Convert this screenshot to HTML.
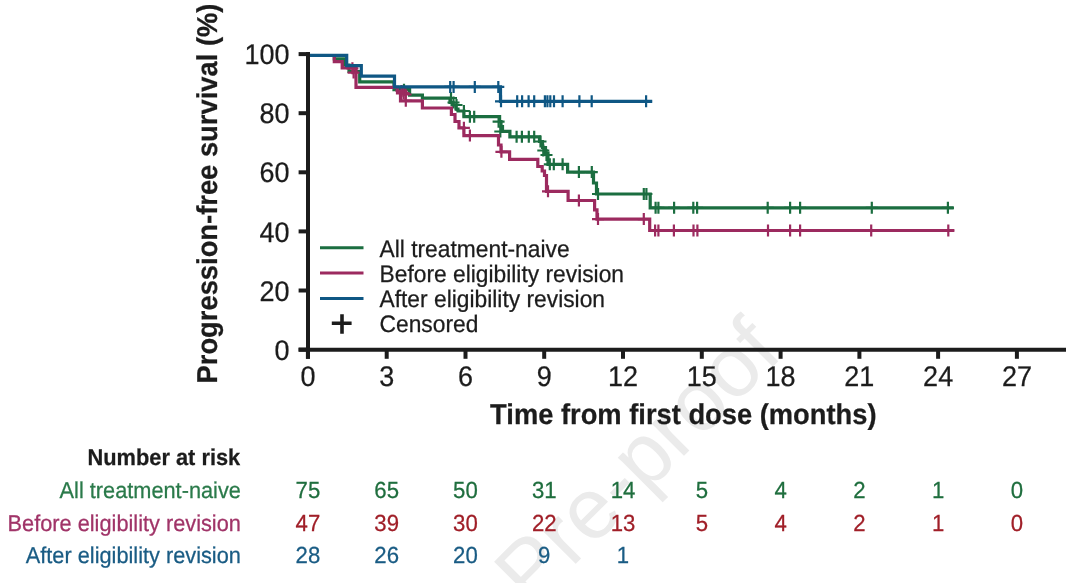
<!DOCTYPE html>
<html><head><meta charset="utf-8"><style>
html,body{margin:0;padding:0;background:#fff;}
body{width:1080px;height:583px;overflow:hidden;}
svg{display:block;will-change:transform;}
text{font-family:"Liberation Sans",Arial,sans-serif;text-rendering:geometricPrecision;}
.tk{font-size:27px;}
.lg{font-size:22.8px;}
.ax{font-size:27.2px;font-weight:bold;}
.nb{font-size:21.6px;}
</style></head><body>
<svg width="1080" height="583" viewBox="0 0 1080 583">
<text x="0" y="0" transform="translate(531,608.6) rotate(-45)" font-family="Liberation Sans, sans-serif" font-size="86" fill="#ebebeb">Pre-proof</text>
<path d="M298.6 54.1H308" stroke="#1c1c1c" stroke-width="4"/>
<text transform="translate(289.50,64.20) scale(1,1.055)" class="tk" fill="#1c1c1c" stroke="#1c1c1c" stroke-width="0.25" text-anchor="end">100</text>
<path d="M298.6 113.2H308" stroke="#1c1c1c" stroke-width="4"/>
<text transform="translate(289.50,123.30) scale(1,1.055)" class="tk" fill="#1c1c1c" stroke="#1c1c1c" stroke-width="0.25" text-anchor="end">80</text>
<path d="M298.6 172.3H308" stroke="#1c1c1c" stroke-width="4"/>
<text transform="translate(289.50,182.40) scale(1,1.055)" class="tk" fill="#1c1c1c" stroke="#1c1c1c" stroke-width="0.25" text-anchor="end">60</text>
<path d="M298.6 231.4H308" stroke="#1c1c1c" stroke-width="4"/>
<text transform="translate(289.50,241.50) scale(1,1.055)" class="tk" fill="#1c1c1c" stroke="#1c1c1c" stroke-width="0.25" text-anchor="end">40</text>
<path d="M298.6 290.5H308" stroke="#1c1c1c" stroke-width="4"/>
<text transform="translate(289.50,300.60) scale(1,1.055)" class="tk" fill="#1c1c1c" stroke="#1c1c1c" stroke-width="0.25" text-anchor="end">20</text>
<path d="M298.6 349.6H308" stroke="#1c1c1c" stroke-width="4"/>
<text transform="translate(289.50,359.70) scale(1,1.055)" class="tk" fill="#1c1c1c" stroke="#1c1c1c" stroke-width="0.25" text-anchor="end">0</text>
<path d="M307.9 350V358.8" stroke="#1c1c1c" stroke-width="4"/>
<text transform="translate(307.90,385.60) scale(1,1.055)" class="tk" fill="#1c1c1c" stroke="#1c1c1c" stroke-width="0.25" text-anchor="middle">0</text>
<path d="M386.7 350V358.8" stroke="#1c1c1c" stroke-width="4"/>
<text transform="translate(386.68,385.60) scale(1,1.055)" class="tk" fill="#1c1c1c" stroke="#1c1c1c" stroke-width="0.25" text-anchor="middle">3</text>
<path d="M465.5 350V358.8" stroke="#1c1c1c" stroke-width="4"/>
<text transform="translate(465.46,385.60) scale(1,1.055)" class="tk" fill="#1c1c1c" stroke="#1c1c1c" stroke-width="0.25" text-anchor="middle">6</text>
<path d="M544.2 350V358.8" stroke="#1c1c1c" stroke-width="4"/>
<text transform="translate(544.24,385.60) scale(1,1.055)" class="tk" fill="#1c1c1c" stroke="#1c1c1c" stroke-width="0.25" text-anchor="middle">9</text>
<path d="M623.0 350V358.8" stroke="#1c1c1c" stroke-width="4"/>
<text transform="translate(623.02,385.60) scale(1,1.055)" class="tk" fill="#1c1c1c" stroke="#1c1c1c" stroke-width="0.25" text-anchor="middle">12</text>
<path d="M701.8 350V358.8" stroke="#1c1c1c" stroke-width="4"/>
<text transform="translate(701.80,385.60) scale(1,1.055)" class="tk" fill="#1c1c1c" stroke="#1c1c1c" stroke-width="0.25" text-anchor="middle">15</text>
<path d="M780.6 350V358.8" stroke="#1c1c1c" stroke-width="4"/>
<text transform="translate(780.58,385.60) scale(1,1.055)" class="tk" fill="#1c1c1c" stroke="#1c1c1c" stroke-width="0.25" text-anchor="middle">18</text>
<path d="M859.4 350V358.8" stroke="#1c1c1c" stroke-width="4"/>
<text transform="translate(859.36,385.60) scale(1,1.055)" class="tk" fill="#1c1c1c" stroke="#1c1c1c" stroke-width="0.25" text-anchor="middle">21</text>
<path d="M938.1 350V358.8" stroke="#1c1c1c" stroke-width="4"/>
<text transform="translate(938.14,385.60) scale(1,1.055)" class="tk" fill="#1c1c1c" stroke="#1c1c1c" stroke-width="0.25" text-anchor="middle">24</text>
<path d="M1016.9 350V358.8" stroke="#1c1c1c" stroke-width="4"/>
<text transform="translate(1016.92,385.60) scale(1,1.055)" class="tk" fill="#1c1c1c" stroke="#1c1c1c" stroke-width="0.25" text-anchor="middle">27</text>
<path d="M334.3 55.3V58.9H344.5V65H349V71.5H359.7V81.8H394V89.7H409.6V95.1H422.4V98.2H450V102.5H453V105H456V109H458V111H463.9V116.7H499.6V121.7H501V126.5H502.5V131.3H509.9V136.8H539.5V141.5H542.5V147.5H545.5V153H548V164.3H567.6V172.1H593.5V183H596.5V194H650.2V207.8H953.7" stroke="#1b6e40" stroke-width="3.2" fill="none"/>
<path d="M398.0 89.7H410.0M404.0 83.7V95.7" stroke="#1b6e40" stroke-width="2.2" fill="none"/>
<path d="M445.0 98.0H457.0M451.0 92.0V104.0" stroke="#1b6e40" stroke-width="2.2" fill="none"/>
<path d="M447.5 102.5H459.5M453.5 96.5V108.5" stroke="#1b6e40" stroke-width="2.2" fill="none"/>
<path d="M450.5 105.0H462.5M456.5 99.0V111.0" stroke="#1b6e40" stroke-width="2.2" fill="none"/>
<path d="M457.9 111.0H469.9M463.9 105.0V117.0" stroke="#1b6e40" stroke-width="2.2" fill="none"/>
<path d="M463.9 116.7H475.9M469.9 110.7V122.7" stroke="#1b6e40" stroke-width="2.2" fill="none"/>
<path d="M468.2 116.7H480.2M474.2 110.7V122.7" stroke="#1b6e40" stroke-width="2.2" fill="none"/>
<path d="M492.6 121.7H504.6M498.6 115.7V127.7" stroke="#1b6e40" stroke-width="2.2" fill="none"/>
<path d="M494.3 131.5H506.3M500.3 125.5V137.5" stroke="#1b6e40" stroke-width="2.2" fill="none"/>
<path d="M510.6 136.8H522.6M516.6 130.8V142.8" stroke="#1b6e40" stroke-width="2.2" fill="none"/>
<path d="M515.9 136.8H527.9M521.9 130.8V142.8" stroke="#1b6e40" stroke-width="2.2" fill="none"/>
<path d="M522.8 136.8H534.8M528.8 130.8V142.8" stroke="#1b6e40" stroke-width="2.2" fill="none"/>
<path d="M528.2 136.8H540.2M534.2 130.8V142.8" stroke="#1b6e40" stroke-width="2.2" fill="none"/>
<path d="M534.5 141.5H546.5M540.5 135.5V147.5" stroke="#1b6e40" stroke-width="2.2" fill="none"/>
<path d="M537.3 150.5H549.3M543.3 144.5V156.5" stroke="#1b6e40" stroke-width="2.2" fill="none"/>
<path d="M540.5 155.0H552.5M546.5 149.0V161.0" stroke="#1b6e40" stroke-width="2.2" fill="none"/>
<path d="M543.8 164.3H555.8M549.8 158.3V170.3" stroke="#1b6e40" stroke-width="2.2" fill="none"/>
<path d="M547.8 164.3H559.8M553.8 158.3V170.3" stroke="#1b6e40" stroke-width="2.2" fill="none"/>
<path d="M556.6 164.3H568.6M562.6 158.3V170.3" stroke="#1b6e40" stroke-width="2.2" fill="none"/>
<path d="M572.9 172.1H584.9M578.9 166.1V178.1" stroke="#1b6e40" stroke-width="2.2" fill="none"/>
<path d="M585.8 172.1H597.8M591.8 166.1V178.1" stroke="#1b6e40" stroke-width="2.2" fill="none"/>
<path d="M592.0 194.0H604.0M598.0 188.0V200.0" stroke="#1b6e40" stroke-width="2.2" fill="none"/>
<path d="M637.8 194.0H649.8M643.8 188.0V200.0" stroke="#1b6e40" stroke-width="2.2" fill="none"/>
<path d="M640.4 194.0H652.4M646.4 188.0V200.0" stroke="#1b6e40" stroke-width="2.2" fill="none"/>
<path d="M649.6 207.8H661.6M655.6 201.8V213.8" stroke="#1b6e40" stroke-width="2.2" fill="none"/>
<path d="M652.4 207.8H664.4M658.4 201.8V213.8" stroke="#1b6e40" stroke-width="2.2" fill="none"/>
<path d="M668.1 207.8H680.1M674.1 201.8V213.8" stroke="#1b6e40" stroke-width="2.2" fill="none"/>
<path d="M687.3 207.8H699.3M693.3 201.8V213.8" stroke="#1b6e40" stroke-width="2.2" fill="none"/>
<path d="M691.1 207.8H703.1M697.1 201.8V213.8" stroke="#1b6e40" stroke-width="2.2" fill="none"/>
<path d="M761.7 207.8H773.7M767.7 201.8V213.8" stroke="#1b6e40" stroke-width="2.2" fill="none"/>
<path d="M784.1 207.8H796.1M790.1 201.8V213.8" stroke="#1b6e40" stroke-width="2.2" fill="none"/>
<path d="M794.1 207.8H806.1M800.1 201.8V213.8" stroke="#1b6e40" stroke-width="2.2" fill="none"/>
<path d="M865.8 207.8H877.8M871.8 201.8V213.8" stroke="#1b6e40" stroke-width="2.2" fill="none"/>
<path d="M941.9 207.8H953.9M947.9 201.8V213.8" stroke="#1b6e40" stroke-width="2.2" fill="none"/>
<path d="M334.3 55.3V61.6H342.2V67.8H356V87.3H397.5V93H400.5V100.8H422.4V108H451.4V114.5H455V121.5H459V127.8H463.9V135.6H498.5V145H501V151.8H509.6V159.3H537.8V166.5H542.2V171H544.5V175.5H546.5V191.3H568.1V200.5H594.6V209.8H597V219.1H649.7V230.5H954.3" stroke="#9c2a5f" stroke-width="3.2" fill="none"/>
<path d="M346.4 68.3H358.4M352.4 62.3V74.3" stroke="#9c2a5f" stroke-width="2.2" fill="none"/>
<path d="M347.6 72.6H359.6M353.6 66.6V78.6" stroke="#9c2a5f" stroke-width="2.2" fill="none"/>
<path d="M395.5 91.0H407.5M401.5 85.0V97.0" stroke="#9c2a5f" stroke-width="2.2" fill="none"/>
<path d="M397.5 93.0H409.5M403.5 87.0V99.0" stroke="#9c2a5f" stroke-width="2.2" fill="none"/>
<path d="M399.5 94.5H411.5M405.5 88.5V100.5" stroke="#9c2a5f" stroke-width="2.2" fill="none"/>
<path d="M399.8 100.8H411.8M405.8 94.8V106.8" stroke="#9c2a5f" stroke-width="2.2" fill="none"/>
<path d="M457.9 127.8H469.9M463.9 121.8V133.8" stroke="#9c2a5f" stroke-width="2.2" fill="none"/>
<path d="M463.9 135.6H475.9M469.9 129.6V141.6" stroke="#9c2a5f" stroke-width="2.2" fill="none"/>
<path d="M495.4 151.8H507.4M501.4 145.8V157.8" stroke="#9c2a5f" stroke-width="2.2" fill="none"/>
<path d="M542.0 191.3H554.0M548.0 185.3V197.3" stroke="#9c2a5f" stroke-width="2.2" fill="none"/>
<path d="M572.9 200.5H584.9M578.9 194.5V206.5" stroke="#9c2a5f" stroke-width="2.2" fill="none"/>
<path d="M592.0 219.1H604.0M598.0 213.1V225.1" stroke="#9c2a5f" stroke-width="2.2" fill="none"/>
<path d="M637.8 219.1H649.8M643.8 213.1V225.1" stroke="#9c2a5f" stroke-width="2.2" fill="none"/>
<path d="M649.1 230.5H661.1M655.1 224.5V236.5" stroke="#9c2a5f" stroke-width="2.2" fill="none"/>
<path d="M652.4 230.5H664.4M658.4 224.5V236.5" stroke="#9c2a5f" stroke-width="2.2" fill="none"/>
<path d="M667.9 230.5H679.9M673.9 224.5V236.5" stroke="#9c2a5f" stroke-width="2.2" fill="none"/>
<path d="M687.5 230.5H699.5M693.5 224.5V236.5" stroke="#9c2a5f" stroke-width="2.2" fill="none"/>
<path d="M691.4 230.5H703.4M697.4 224.5V236.5" stroke="#9c2a5f" stroke-width="2.2" fill="none"/>
<path d="M762.0 230.5H774.0M768.0 224.5V236.5" stroke="#9c2a5f" stroke-width="2.2" fill="none"/>
<path d="M784.1 230.5H796.1M790.1 224.5V236.5" stroke="#9c2a5f" stroke-width="2.2" fill="none"/>
<path d="M794.1 230.5H806.1M800.1 224.5V236.5" stroke="#9c2a5f" stroke-width="2.2" fill="none"/>
<path d="M865.2 230.5H877.2M871.2 224.5V236.5" stroke="#9c2a5f" stroke-width="2.2" fill="none"/>
<path d="M942.3 230.5H954.3M948.3 224.5V236.5" stroke="#9c2a5f" stroke-width="2.2" fill="none"/>
<path d="M308 55.3H346.7V65.6H361.3V76.1H394.5V86.9H500.5V101.3H652.2" stroke="#0f5784" stroke-width="3.2" fill="none"/>
<path d="M444.2 86.9H456.2M450.2 80.9V92.9" stroke="#0f5784" stroke-width="2.2" fill="none"/>
<path d="M447.6 86.9H459.6M453.6 80.9V92.9" stroke="#0f5784" stroke-width="2.2" fill="none"/>
<path d="M468.8 86.9H480.8M474.8 80.9V92.9" stroke="#0f5784" stroke-width="2.2" fill="none"/>
<path d="M492.3 86.9H504.3M498.3 80.9V92.9" stroke="#0f5784" stroke-width="2.2" fill="none"/>
<path d="M495.0 101.3H507.0M501.0 95.3V107.3" stroke="#0f5784" stroke-width="2.2" fill="none"/>
<path d="M511.2 101.3H523.2M517.2 95.3V107.3" stroke="#0f5784" stroke-width="2.2" fill="none"/>
<path d="M516.1 101.3H528.1M522.1 95.3V107.3" stroke="#0f5784" stroke-width="2.2" fill="none"/>
<path d="M522.6 101.3H534.6M528.6 95.3V107.3" stroke="#0f5784" stroke-width="2.2" fill="none"/>
<path d="M528.2 101.3H540.2M534.2 95.3V107.3" stroke="#0f5784" stroke-width="2.2" fill="none"/>
<path d="M538.9 101.3H550.9M544.9 95.3V107.3" stroke="#0f5784" stroke-width="2.2" fill="none"/>
<path d="M541.4 101.3H553.4M547.4 95.3V107.3" stroke="#0f5784" stroke-width="2.2" fill="none"/>
<path d="M544.3 101.3H556.3M550.3 95.3V107.3" stroke="#0f5784" stroke-width="2.2" fill="none"/>
<path d="M548.0 101.3H560.0M554.0 95.3V107.3" stroke="#0f5784" stroke-width="2.2" fill="none"/>
<path d="M556.6 101.3H568.6M562.6 95.3V107.3" stroke="#0f5784" stroke-width="2.2" fill="none"/>
<path d="M573.4 101.3H585.4M579.4 95.3V107.3" stroke="#0f5784" stroke-width="2.2" fill="none"/>
<path d="M585.7 101.3H597.7M591.7 95.3V107.3" stroke="#0f5784" stroke-width="2.2" fill="none"/>
<path d="M640.1 101.3H652.1M646.1 95.3V107.3" stroke="#0f5784" stroke-width="2.2" fill="none"/>
<path d="M308 52V358.8M298.6 349.8H1066" stroke="#1c1c1c" stroke-width="4" fill="none"/>
<path d="M320 247.8H363.5" stroke="#1b6e40" stroke-width="3"/>
<path d="M320 273.1H363.5" stroke="#9c2a5f" stroke-width="3"/>
<path d="M320 298.4H363.5" stroke="#0f5784" stroke-width="3"/>
<path d="M331.8 323.3H351.6M342 314.3V333.7" stroke="#1c1c1c" stroke-width="3.6"/>
<text transform="translate(379.50,256.90) scale(1,1.05)" class="lg" fill="#1c1c1c" stroke="#1c1c1c" stroke-width="0.25">All treatment-naive</text>
<text transform="translate(379.50,282.00) scale(1,1.05)" class="lg" fill="#1c1c1c" stroke="#1c1c1c" stroke-width="0.25">Before eligibility revision</text>
<text transform="translate(379.50,306.90) scale(1,1.05)" class="lg" fill="#1c1c1c" stroke="#1c1c1c" stroke-width="0.25">After eligibility revision</text>
<text transform="translate(379.50,331.80) scale(1,1.05)" class="lg" fill="#1c1c1c" stroke="#1c1c1c" stroke-width="0.25">Censored</text>
<text transform="translate(490.10,423.50) scale(1,1.05)" class="ax" fill="#1c1c1c" stroke="#1c1c1c" stroke-width="0.25" style="font-size:27.32px">Time from first dose (months)</text>
<text transform="translate(216.70,383.50) rotate(-90) scale(1,1.05)" class="ax" fill="#1c1c1c" stroke="#1c1c1c" stroke-width="0.25" style="font-size:27.35px">Progression-free survival (%)</text>
<text transform="translate(240.20,465.00) scale(1,1.05)" class="nb" fill="#1c1c1c" stroke="#1c1c1c" stroke-width="0.25" text-anchor="end" style="font-weight:bold;font-size:21.8px">Number at risk</text>
<text transform="translate(240.90,497.80) scale(1,1.05)" class="nb" fill="#2a7a4a" stroke="#2a7a4a" stroke-width="0.25" text-anchor="end" style="font-size:21.75px">All treatment-naive</text>
<text transform="translate(307.90,497.80) scale(1,1.05)" class="nb" fill="#1f6e3e" stroke="#1f6e3e" stroke-width="0.25" text-anchor="middle" style="font-size:22.2px">75</text>
<text transform="translate(386.68,497.80) scale(1,1.05)" class="nb" fill="#1f6e3e" stroke="#1f6e3e" stroke-width="0.25" text-anchor="middle" style="font-size:22.2px">65</text>
<text transform="translate(465.46,497.80) scale(1,1.05)" class="nb" fill="#1f6e3e" stroke="#1f6e3e" stroke-width="0.25" text-anchor="middle" style="font-size:22.2px">50</text>
<text transform="translate(544.24,497.80) scale(1,1.05)" class="nb" fill="#1f6e3e" stroke="#1f6e3e" stroke-width="0.25" text-anchor="middle" style="font-size:22.2px">31</text>
<text transform="translate(623.02,497.80) scale(1,1.05)" class="nb" fill="#1f6e3e" stroke="#1f6e3e" stroke-width="0.25" text-anchor="middle" style="font-size:22.2px">14</text>
<text transform="translate(701.80,497.80) scale(1,1.05)" class="nb" fill="#1f6e3e" stroke="#1f6e3e" stroke-width="0.25" text-anchor="middle" style="font-size:22.2px">5</text>
<text transform="translate(780.58,497.80) scale(1,1.05)" class="nb" fill="#1f6e3e" stroke="#1f6e3e" stroke-width="0.25" text-anchor="middle" style="font-size:22.2px">4</text>
<text transform="translate(859.36,497.80) scale(1,1.05)" class="nb" fill="#1f6e3e" stroke="#1f6e3e" stroke-width="0.25" text-anchor="middle" style="font-size:22.2px">2</text>
<text transform="translate(938.14,497.80) scale(1,1.05)" class="nb" fill="#1f6e3e" stroke="#1f6e3e" stroke-width="0.25" text-anchor="middle" style="font-size:22.2px">1</text>
<text transform="translate(1016.92,497.80) scale(1,1.05)" class="nb" fill="#1f6e3e" stroke="#1f6e3e" stroke-width="0.25" text-anchor="middle" style="font-size:22.2px">0</text>
<text transform="translate(240.90,530.50) scale(1,1.05)" class="nb" fill="#a03468" stroke="#a03468" stroke-width="0.25" text-anchor="end" style="font-size:21.75px">Before eligibility revision</text>
<text transform="translate(307.90,530.50) scale(1,1.05)" class="nb" fill="#a01f28" stroke="#a01f28" stroke-width="0.25" text-anchor="middle" style="font-size:22.2px">47</text>
<text transform="translate(386.68,530.50) scale(1,1.05)" class="nb" fill="#a01f28" stroke="#a01f28" stroke-width="0.25" text-anchor="middle" style="font-size:22.2px">39</text>
<text transform="translate(465.46,530.50) scale(1,1.05)" class="nb" fill="#a01f28" stroke="#a01f28" stroke-width="0.25" text-anchor="middle" style="font-size:22.2px">30</text>
<text transform="translate(544.24,530.50) scale(1,1.05)" class="nb" fill="#a01f28" stroke="#a01f28" stroke-width="0.25" text-anchor="middle" style="font-size:22.2px">22</text>
<text transform="translate(623.02,530.50) scale(1,1.05)" class="nb" fill="#a01f28" stroke="#a01f28" stroke-width="0.25" text-anchor="middle" style="font-size:22.2px">13</text>
<text transform="translate(701.80,530.50) scale(1,1.05)" class="nb" fill="#a01f28" stroke="#a01f28" stroke-width="0.25" text-anchor="middle" style="font-size:22.2px">5</text>
<text transform="translate(780.58,530.50) scale(1,1.05)" class="nb" fill="#a01f28" stroke="#a01f28" stroke-width="0.25" text-anchor="middle" style="font-size:22.2px">4</text>
<text transform="translate(859.36,530.50) scale(1,1.05)" class="nb" fill="#a01f28" stroke="#a01f28" stroke-width="0.25" text-anchor="middle" style="font-size:22.2px">2</text>
<text transform="translate(938.14,530.50) scale(1,1.05)" class="nb" fill="#a01f28" stroke="#a01f28" stroke-width="0.25" text-anchor="middle" style="font-size:22.2px">1</text>
<text transform="translate(1016.92,530.50) scale(1,1.05)" class="nb" fill="#a01f28" stroke="#a01f28" stroke-width="0.25" text-anchor="middle" style="font-size:22.2px">0</text>
<text transform="translate(240.90,563.20) scale(1,1.05)" class="nb" fill="#1a5c84" stroke="#1a5c84" stroke-width="0.25" text-anchor="end" style="font-size:21.75px">After eligibility revision</text>
<text transform="translate(307.90,563.20) scale(1,1.05)" class="nb" fill="#1a5c84" stroke="#1a5c84" stroke-width="0.25" text-anchor="middle" style="font-size:22.2px">28</text>
<text transform="translate(386.68,563.20) scale(1,1.05)" class="nb" fill="#1a5c84" stroke="#1a5c84" stroke-width="0.25" text-anchor="middle" style="font-size:22.2px">26</text>
<text transform="translate(465.46,563.20) scale(1,1.05)" class="nb" fill="#1a5c84" stroke="#1a5c84" stroke-width="0.25" text-anchor="middle" style="font-size:22.2px">20</text>
<text transform="translate(544.24,563.20) scale(1,1.05)" class="nb" fill="#1a5c84" stroke="#1a5c84" stroke-width="0.25" text-anchor="middle" style="font-size:22.2px">9</text>
<text transform="translate(623.02,563.20) scale(1,1.05)" class="nb" fill="#1a5c84" stroke="#1a5c84" stroke-width="0.25" text-anchor="middle" style="font-size:22.2px">1</text>
</svg>
</body></html>
